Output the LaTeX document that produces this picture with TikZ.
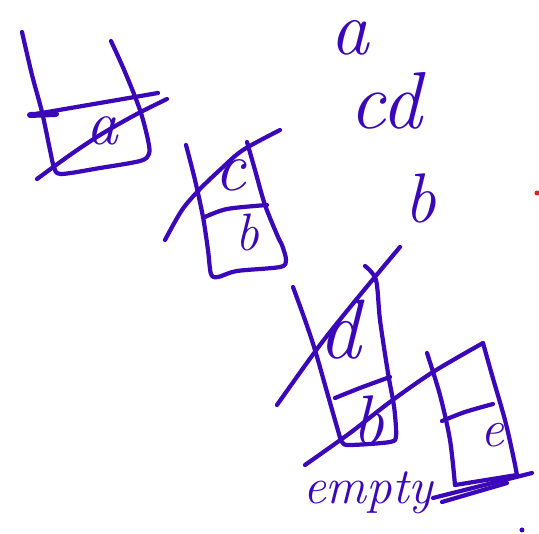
\documentclass[tikz,border=0pt]{standalone}
\definecolor{inkc}{RGB}{58,8,185}
\definecolor{redc}{RGB}{230,30,30}
\tikzset{
  ink/.style={draw=inkc, line width=2.4pt, line cap=round, line join=round},
  hand/.style={text=inkc, inner sep=0pt},
}
\newcommand{\handfont}[1]{\fontsize{#1}{#1}\selectfont\itshape}
\begin{document}
\begin{tikzpicture}[x=0.02cm,y=-0.02cm]
\useasboundingbox (0,0) rectangle (539,534);
% box 1
\draw[ink] plot[smooth,tension=0.5] coordinates {(22,32) (32,75) (42,112) (50,150) (54,167) (61,174) (100,168) (140,161) (149,154) (148,140) (140,110) (125,72) (111,41)};
\draw[ink] (30,115) -- (158,93);
\draw[ink, line width=3.4pt] (30,115) -- (56,114);
\draw[ink] plot[smooth] coordinates {(37,179) (70,155) (100,135) (135,115) (167,99)};
\node[hand, font=\handfont{36}] (la) at (102,131) {a};
% box 2
\draw[ink] plot[smooth,tension=0.5] coordinates {(186,145) (195,180) (203,217) (208,250) (211,274) (218,277) (237,271) (280,267) (286,260) (282,245) (278,237) (265,205) (255,170) (247,142)};
\draw[ink] plot[smooth] coordinates {(205,217) (227,209) (267,205)};
\draw[ink] plot[smooth] coordinates {(165,240) (182,210) (200,189) (222,168) (243,150) (280,130)};
\node[hand, font=\handfont{40}] (lc) at (230,175) {c};
\node[hand, font=\handfont{30}] (lb) at (247,232) {b};
% box 3
\draw[ink] plot[smooth,tension=0.5] coordinates {(293,287) (305,320) (315,350) (327,392) (337,427) (342,442) (350,445) (390,442) (396,436) (395,415) (393,400) (388,373) (380,320) (376,280) (365,266)};
\draw[ink] plot[smooth] coordinates {(335,398) (360,388) (390,377)};
\draw[ink] plot[smooth] coordinates {(277,405) (320,345) (360,295) (400,247)};
\node[hand, font=\handfont{48}] (ld) at (340,330) {d};
\node[hand, font=\handfont{40}] (lb2) at (368,420) {b};
% long cross line + box e
\draw[ink] plot[smooth] coordinates {(305,465) (350,433) (390,402) (433,372) (483,343)};
\draw[ink] plot[smooth] coordinates {(483,343) (492,375) (505,420) (513,455) (517,475)};
\draw[ink] plot[smooth] coordinates {(427,353) (440,395) (450,440) (455,485)};
\draw[ink] (455,485) -- (517,475);
\draw[ink] plot[smooth] coordinates {(442,421) (465,412) (493,404)};
\draw[ink] (433,498) -- (532,473);
\draw[ink] (442,502) -- (507,483);
\node[hand, font=\handfont{30}] (le) at (492,435) {e};
\node[hand, font=\handfont{29}] (lempty) at (368,493) {empty};
% stack sequence
\node[hand, font=\handfont{44}] (sa) at (350,38) {a};
\node[hand, font=\handfont{46}] (scd) at (386,101) {cd};
\node[hand, font=\handfont{40}] (sb) at (420,198) {b};
% stray dots
\fill[redc] (537,193) circle (2.5);
\fill[inkc] (522,530) circle (2.5);
\end{tikzpicture}
\end{document}
